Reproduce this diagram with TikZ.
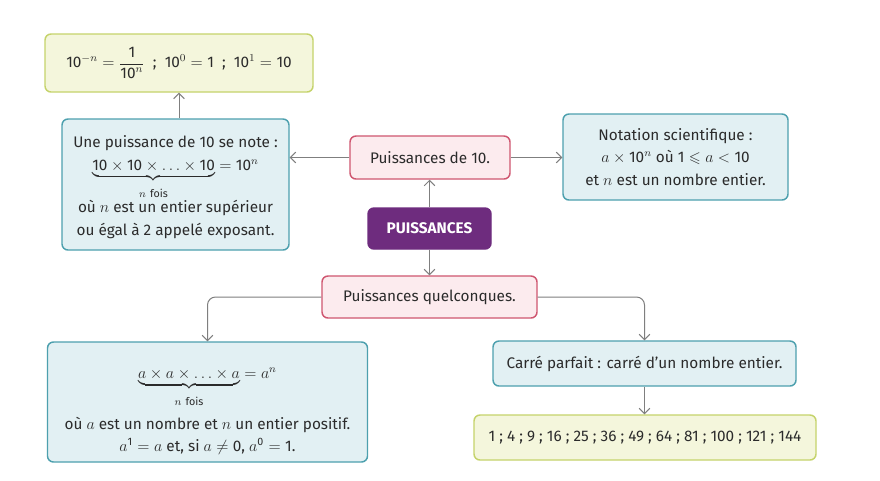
\documentclass[tikz,border=0pt]{standalone}
\usepackage{amsmath}
\usepackage{amssymb}
\usepackage{fontspec}
\setmainfont{Fira Sans}
\usetikzlibrary{arrows.meta}
\definecolor{gfill}{HTML}{F4F6DC}
\definecolor{gline}{HTML}{C5D36B}
\definecolor{bfill}{HTML}{E2F0F3}
\definecolor{bline}{HTML}{4DA0AE}
\definecolor{pfill}{HTML}{FCEBEE}
\definecolor{pline}{HTML}{CF5670}
\definecolor{purp}{HTML}{6E2C7E}
\definecolor{arrc}{HTML}{7F7F7F}
\definecolor{txt}{HTML}{2B2B2B}
\newcommand{\tx}[1]{\text{#1}}
\newcommand{\fois}{\rule{0pt}{10pt}n\ \tx{fois}}
\begin{document}
\begin{tikzpicture}[x=0.75pt,y=-0.75pt,
  box/.style={rounded corners=4.5pt, line width=1.1pt, align=center, inner sep=2pt, text=txt, font=\fontsize{11.5}{17}\selectfont},
  gbox/.style={box, draw=gline, fill=gfill},
  bbox/.style={box, draw=bline, fill=bfill},
  pbox/.style={box, draw=pline, fill=pfill},
  arr/.style={draw=arrc, line width=0.75pt, -{Straight Barb[length=4pt,width=8pt]}}]
\useasboundingbox (0,0) rectangle (880,480);
\fill[white] (0,0) rectangle (880,480);
\node[gbox, minimum width=201pt, minimum height=43.5pt] (g1) at (179,63)
  {$\tx{10}^{-n}=\dfrac{\tx{1}}{\tx{10}^{n}}$\ \ ;\ \ $\tx{10}^{0}=\tx{1}$\ \ ;\ \ $\tx{10}^{1}=\tx{10}$};
\node[bbox, minimum width=170.25pt, minimum height=98.25pt] (b1) at (175.5,184.5)
  {\rule{0pt}{13pt}Une puissance de 10 se note :\\
   $\smash[b]{\underbrace{\tx{10}\times\tx{10}\times\ldots\times\tx{10}}_{\fois}}=\tx{10}^{n}$\\[15pt]
   où $n$ est un entier supérieur\\ ou égal à 2 appelé exposant.};
\node[pbox, minimum width=120pt, minimum height=32.25pt] (p10) at (430,157.5) {Puissances de 10.};
\node[bbox, minimum width=168.75pt, minimum height=64.5pt] (ns) at (675.5,157)
  {Notation scientifique :\\ $a\times\tx{10}^{n}$ où $\tx{1}\leqslant a<\tx{10}$\\ et $n$ est un nombre entier.};
\node[box, fill=purp, draw=purp, text=white, minimum width=92.25pt, minimum height=30.75pt, font=\fontsize{11.5}{14}\selectfont\bfseries] (P) at (429.5,228.5) {PUISSANCES};
\node[pbox, minimum width=161.25pt, minimum height=31.5pt] (pq) at (429.5,297) {Puissances quelconques.};
\node[bbox, minimum width=240pt, minimum height=90pt] (b2) at (207.5,402)
  {\rule{0pt}{22pt}$\smash[b]{\underbrace{a\times a\times\ldots\times a}_{\fois}}=a^{n}$\\[21pt]
   où $a$ est un nombre et $n$ un entier positif.\\
   $a^{\tx{1}}=a$ et, si $a\neq\tx{0}$, $a^{\tx{0}}=\tx{1}$.};
\node[bbox, minimum width=227.25pt, minimum height=33.75pt] (cp) at (644.5,363.5) {Carré parfait : carré d’un nombre entier.};
\node[gbox, minimum width=256.5pt, minimum height=33.75pt] (nums) at (645,437.5) {1 ; 4 ; 9 ; 16 ; 25 ; 36 ; 49 ; 64 ; 81 ; 100 ; 121 ; 144};
\draw[arr] (g1.south |- b1.north) -- (g1.south);
\draw[arr] (p10.west) -- (p10.west -| b1.east);
\draw[arr] (p10.east) -- (p10.east -| ns.west);
\draw[arr] (P.north) -- (P.north |- p10.south);
\draw[arr] (P.south) -- (P.south |- pq.north);
\draw[arr, rounded corners=6pt] (pq.west) -| (b2.north);
\draw[arr, rounded corners=6pt] (pq.east) -| (cp.north);
\draw[arr] (cp.south) -- (cp.south |- nums.north);
\end{tikzpicture}
\end{document}
